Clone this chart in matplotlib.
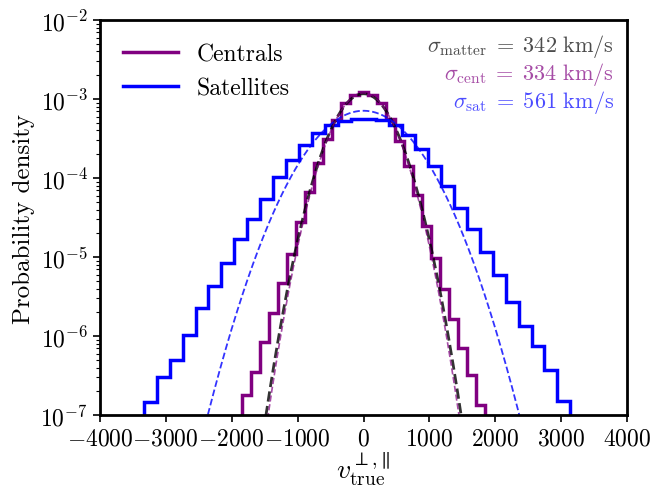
import numpy as np
import matplotlib
matplotlib.use("Agg")
import matplotlib.pyplot as plt
from matplotlib.ticker import FuncFormatter, FixedLocator

plt.rcParams['font.family'] = 'cmr10'
plt.rcParams['mathtext.fontset'] = 'cm'
plt.rcParams['axes.unicode_minus'] = False
plt.rcParams['axes.formatter.use_mathtext'] = True

# Centrals histogram: bin width 136 km/s, bins centred on multiples of 136
cent_edges = [-1836, -1700, -1564, -1428, -1292, -1156, -1020, -884, -748, -612,
              -476, -340, -204, -68, 68, 204, 340, 476, 612, 748, 884, 1020,
              1156, 1292, 1428, 1564, 1700, 1836]
cent_density = [1.79e-7, 3.47e-7, 8.5e-7, 1.95e-6, 4.68e-6, 1.1e-5, 2.8e-5, 6.6e-5,
                1.55e-4, 3.1e-4, 5.4e-4, 9.0e-4, 1.13e-3, 1.24e-3, 1.11e-3, 8.8e-4,
                5.6e-4, 2.96e-4, 1.41e-4, 6.1e-5, 2.5e-5, 9.6e-6, 3.9e-6, 1.64e-6,
                7.1e-7, 3.2e-7, 1.34e-7]

# Satellites histogram: bin width 196 km/s
sat_edges = [-3332, -3136, -2940, -2744, -2548, -2352, -2156, -1960, -1764, -1568,
             -1372, -1176, -980, -784, -588, -392, -196, 0, 196, 392, 588, 784,
             980, 1176, 1372, 1568, 1764, 1960, 2156, 2352, 2548, 2744, 2940, 3136]
sat_density = [1.47e-7, 3.05e-7, 4.97e-7, 1.03e-6, 2.28e-6, 4.33e-6, 8.4e-6, 1.69e-5,
               3.03e-5, 5.42e-5, 1.02e-4, 1.71e-4, 2.62e-4, 3.72e-4, 4.68e-4, 5.3e-4,
               5.55e-4, 5.6e-4, 5.45e-4, 4.7e-4, 3.5e-4, 2.3e-4, 1.43e-4, 8.0e-5,
               4.2e-5, 2.25e-5, 1.15e-5, 5.97e-6, 2.72e-6, 1.35e-6, 7.5e-7, 3.74e-7,
               1.52e-7]

sigma_matter = 342
sigma_cent = 334
sigma_sat = 561

fig = plt.figure(figsize=(6.61, 4.89), dpi=100)
ax = fig.add_axes([0.151, 0.149, 0.798, 0.808])

v = np.linspace(-4000, 4000, 2001)
def gauss(x, s):
    return np.exp(-0.5 * (x / s) ** 2) / (np.sqrt(2 * np.pi) * s)

ax.stairs(cent_density, cent_edges, baseline=1e-12, color='purple', lw=2.5,
          label='Centrals')
ax.stairs(sat_density, sat_edges, baseline=1e-12, color='blue', lw=2.5,
          label='Satellites')
ax.plot(v, gauss(v, sigma_matter), color='black', ls='--', lw=2.0, alpha=0.8)
ax.plot(v, gauss(v, sigma_cent), color='purple', ls='--', lw=1.2, alpha=0.7)
ax.plot(v, gauss(v, sigma_sat), color='blue', ls='--', lw=1.3, alpha=0.8)

ax.set_yscale('log')
ax.set_ylim(1e-7, 1e-2)
ax.set_xlim(-4000, 4000)
ax.xaxis.set_major_locator(FixedLocator(np.arange(-4000, 4001, 1000)))
ax.xaxis.set_major_formatter(FuncFormatter(lambda x, p: r'$%d$' % int(round(x))))

for s in ax.spines.values():
    s.set_linewidth(2.0)
ax.tick_params(axis='both', which='major', labelsize=17, width=1.2, length=5)
ax.tick_params(axis='y', which='minor', width=0.8, length=3)

ax.set_xlabel(r'$v_{\rm true}^{\perp,\!\parallel}$', fontsize=20, labelpad=0)
ax.set_ylabel('Probability density', fontsize=18, labelpad=4)

leg = ax.legend(loc='upper left', frameon=False, fontsize=17, handlelength=2.3,
                borderaxespad=0.6)
for line in leg.get_lines():
    line.set_linewidth(2.5)

ax.text(0.975, 0.935, r'$\sigma_{\rm matter}\;=\;342\ {\rm km/s}$', transform=ax.transAxes,
        ha='right', va='center', fontsize=16, color='black', alpha=0.7)
ax.text(0.975, 0.865, r'$\sigma_{\rm cent}\;=\;334\ {\rm km/s}$', transform=ax.transAxes,
        ha='right', va='center', fontsize=16, color='purple', alpha=0.7)
ax.text(0.975, 0.795, r'$\sigma_{\rm sat}\;=\;561\ {\rm km/s}$', transform=ax.transAxes,
        ha='right', va='center', fontsize=16, color='blue', alpha=0.7)

fig.savefig('out.png', dpi=100)
